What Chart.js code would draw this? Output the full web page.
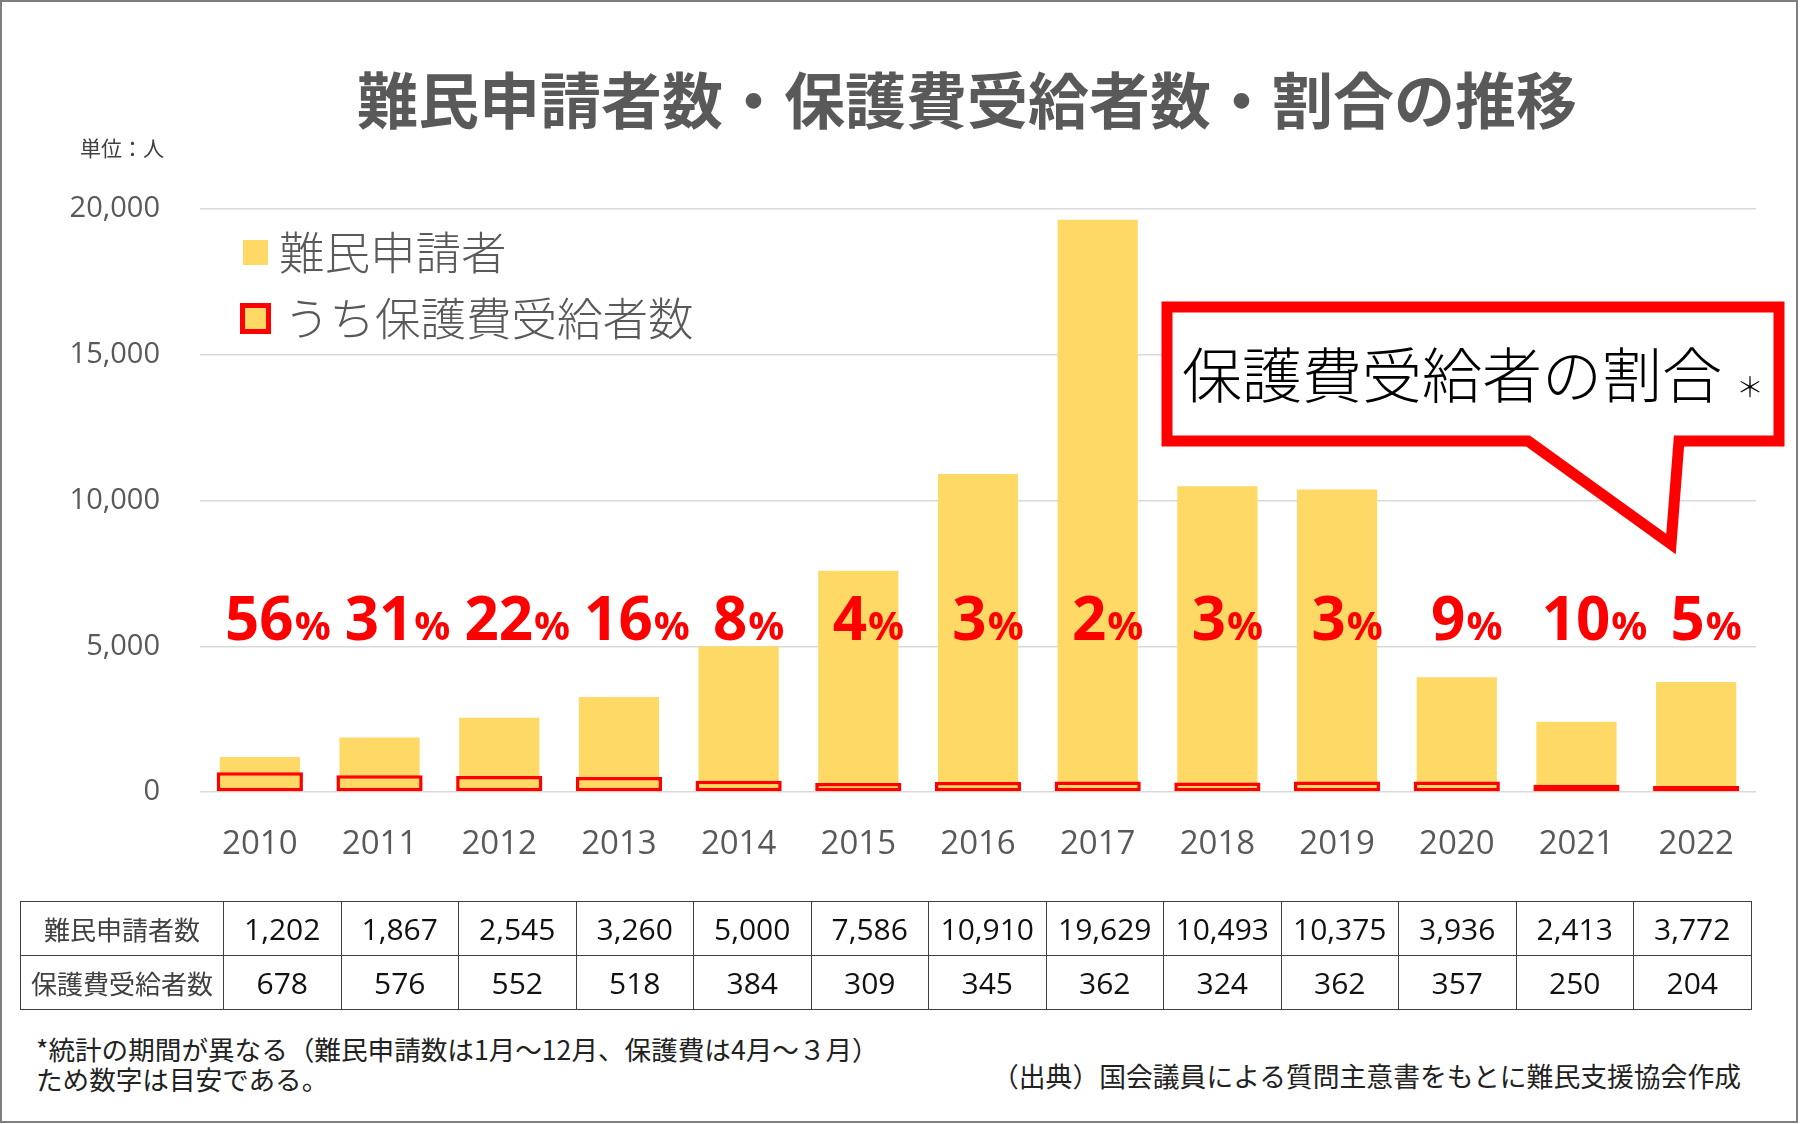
<!DOCTYPE html>
<html lang="ja">
<head>
<meta charset="utf-8">
<script src="https://cdn.jsdelivr.net/npm/chart.js@4.4.1/dist/chart.umd.min.js"></script>
<style>
  html, body { margin: 0; padding: 0; background: #ffffff; }
  #page { position: relative; width: 1800px; height: 1124px; overflow: hidden; background: #fff;
          font-family: "Noto Sans CJK JP", "Open Sans", sans-serif; }
  #frame { position: absolute; left: 0; top: 0; width: 1798px; height: 1123px; box-sizing: border-box;
           border: 2px solid #7f7f7f; pointer-events: none; }
  #chart { position: absolute; left: 0; top: 0; }
  .abs { position: absolute; white-space: nowrap; }
  #title { left: 0; width: 1934px; top: 58px; height: 80px; line-height: 80px; text-align: center;
           font-size: 61px; font-weight: 700; color: #595959; }
  #unit { left: 80px; top: 134px; height: 26px; line-height: 26px; font-size: 21px; color: #404040; }
  .legtxt { font-size: 45.5px; color: #595959; height: 56px; line-height: 56px; font-weight: 300; }
  #sw1 { left: 243px; top: 240px; width: 25px; height: 25px; background: #FFD966; }
  #lt1 { left: 279px; top: 222px; }
  #sw2 { left: 240px; top: 303px; width: 31px; height: 31px; background: #FFD966; border: 5px solid #FF0000; box-sizing: border-box; }
  #lt2 { left: 284px; top: 288px; }
  #callout { position: absolute; left: 0; top: 0; }
  #ctext { left: 1182px; top: 336px; height: 72px; line-height: 72px; font-size: 60px; color: #000; font-weight: 300; }
  #cstar { left: 1736px; top: 368px; height: 36px; line-height: 36px; font-size: 28px; color: #000; font-weight: 300; }
  #tbl { position: absolute; left: 20px; top: 901px; border-collapse: collapse; table-layout: fixed; }
  #tbl td { border: 1.5px solid #404040; height: 53px; padding: 0; text-align: center; }
  #tbl td.hd { width: 202px; font-size: 26px; color: #404040; }
  #tbl td.num { width: 116.5px; font-family: "Open Sans", "Noto Sans", sans-serif; font-size: 30px; color: #111; }
  #note { left: 36px; top: 1034px; font-size: 26.6px; line-height: 30px; color: #222; }
  #source { right: 59px; top: 1060px; font-size: 26.8px; line-height: 32px; color: #222; }
</style>
</head>
<body>
<div id="page">
  <canvas id="chart" width="1800" height="900"></canvas>

  <div class="abs" id="title">難民申請者数・保護費受給者数・割合の推移</div>
  <div class="abs" id="unit">単位：人</div>

  <div class="abs" id="sw1"></div>
  <div class="abs legtxt" id="lt1">難民申請者</div>
  <div class="abs" id="sw2"></div>
  <div class="abs legtxt" id="lt2">うち保護費受給者数</div>

  <svg id="callout" width="1800" height="900">
    <path d="M1167 307 L1779 307 L1779 441 L1679 441 L1671 544 L1528 441 L1167 441 Z"
          fill="#ffffff" stroke="#FF0000" stroke-width="11" stroke-linejoin="miter" stroke-miterlimit="10"/>
  </svg>
  <div class="abs" id="ctext">保護費受給者の割合</div>
  <div class="abs" id="cstar">＊</div>

  <table id="tbl"><tbody id="tbody"></tbody></table>

  <div class="abs" id="note">*統計の期間が異なる（難民申請数は1月～12月、保護費は4月～３月）<br>ため数字は目安である。</div>
  <div class="abs" id="source">（出典）国会議員による質問主意書をもとに難民支援協会作成</div>

  <div id="frame"></div>
</div>

<script>
// ---- data ----
const years = ['2010','2011','2012','2013','2014','2015','2016','2017','2018','2019','2020','2021','2022'];
const applicants = [1202, 1867, 2545, 3260, 5000, 7586, 10910, 19629, 10493, 10375, 3936, 2413, 3772];
const recipients = [678, 576, 552, 518, 384, 309, 345, 362, 324, 362, 357, 250, 204];
const yTickValues = [0, 5000, 10000, 15000, 20000];
const seriesNames = ['難民申請者', 'うち保護費受給者数'];
const tableRowNames = ['難民申請者数', '保護費受給者数'];

// ---- table ----
const tbody = document.getElementById('tbody');
[applicants, recipients].forEach((arr, r) => {
  const tr = document.createElement('tr');
  const th = document.createElement('td');
  th.className = 'hd';
  th.textContent = tableRowNames[r];
  tr.appendChild(th);
  arr.forEach(v => {
    const td = document.createElement('td');
    td.className = 'num';
    td.textContent = v.toLocaleString('en-US');
    tr.appendChild(td);
  });
  tbody.appendChild(tr);
});

// ---- ratio labels plugin ----
const ratioLabels = {
  id: 'ratioLabels',
  afterDatasetsDraw(chart) {
    const ctx = chart.ctx;
    const xs = chart.scales.x, ys = chart.scales.y;
    const base = ys.getPixelForValue(5000) - 6;
    const bigFont = '700 60px "Open Sans", "Noto Sans", sans-serif';
    const smallFont = '700 40px "Open Sans", "Noto Sans", sans-serif';
    ctx.save();
    ctx.fillStyle = '#FF0000';
    ctx.textBaseline = 'alphabetic';
    ctx.textAlign = 'left';
    applicants.forEach((a, i) => {
      const num = String(Math.round(recipients[i] / a * 100));
      ctx.font = bigFont; const w1 = ctx.measureText(num).width;
      ctx.font = smallFont; const w2 = ctx.measureText('%').width;
      const cx = xs.getPixelForValue(i) + 10 + (num.length - 1) * 8;
      const x = cx - (w1 + w2 + 1) / 2;
      ctx.font = bigFont; ctx.fillText(num, x, base);
      ctx.font = smallFont; ctx.fillText('%', x + w1 + 1, base);
    });
    ctx.restore();
  }
};

// ---- chart ----
new Chart(document.getElementById('chart'), {
  type: 'bar',
  data: {
    labels: years,
    datasets: [
      { label: seriesNames[0], data: applicants, backgroundColor: '#FFD966', borderWidth: 0,
        barPercentage: 0.67, categoryPercentage: 1, grouped: false, order: 1 },
      { label: seriesNames[1], data: recipients, backgroundColor: '#FFD966', borderColor: '#FF0000',
        borderWidth: 3.5, borderSkipped: false, barPercentage: 0.72, categoryPercentage: 1, grouped: false, order: 0 }
    ]
  },
  options: {
    responsive: false,
    animation: false,
    layout: { padding: { top: 209, right: 44, left: 0, bottom: 0 } },
    plugins: { legend: { display: false }, tooltip: { enabled: false } },
    scales: {
      x: {
        grid: { display: false, drawTicks: false },
        border: { display: false },
        ticks: { color: '#595959', font: { family: '"Open Sans", "Noto Sans", sans-serif', size: 33 }, padding: 33 },
        afterFit(s) { s.height = 108; }
      },
      y: {
        min: 0, max: 20000,
        afterBuildTicks(s) { s.ticks = yTickValues.map(v => ({ value: v })); },
        grid: { color: '#D9D9D9', lineWidth: 1.5, drawTicks: false },
        border: { display: false },
        ticks: { color: '#595959', font: { family: '"Open Sans", "Noto Sans", sans-serif', size: 29 }, padding: 40,
                 callback: v => Number(v).toLocaleString('en-US') },
        afterFit(s) { s.width = 200; }
      }
    }
  },
  plugins: [ratioLabels]
});
</script>
</body>
</html>
